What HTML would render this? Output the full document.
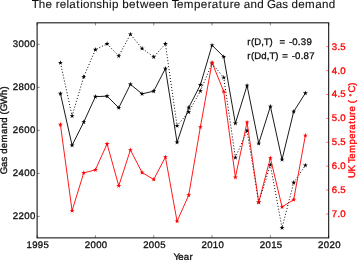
<!DOCTYPE html>
<html><head><meta charset="utf-8"><style>
html,body{margin:0;padding:0;background:#fff;}
body{width:357px;height:260px;overflow:hidden;}
svg{display:block;will-change:transform;}
text{font-family:"Liberation Sans",sans-serif;text-rendering:geometricPrecision;fill:#111;stroke:#111;stroke-width:0.32px;}
.r{fill:#f00;stroke:#f00;}
</style></head><body>
<svg width="357" height="260" viewBox="0 0 357 260">
<rect width="357" height="260" fill="#fff"/>
<g>
<text transform="translate(32.00,8.00) scale(1.0,1)" x="-0.26 6.76 13.48 20.11 23.72 27.70 34.45 37.30 44.32 48.25 51.10 57.80 64.34 70.23 77.07 80.04 86.78 90.29 97.01 104.05 107.98 116.65 123.27 129.99 136.73 139.79 144.88 151.82 162.09 168.81 175.63 179.84 186.86 190.77 197.69 201.67 208.31 211.70 218.41 225.23 231.97 234.95 243.70 250.13 255.93 259.44 266.16 273.11 283.25 289.96 296.79" y="0" style="font-size:11.6px;stroke-width:0.1px">The&#160;relationship&#160;between&#160;Temperature&#160;and&#160;Gas&#160;demand</text>
<polyline points="60.43,62.75 72.09,115.95 83.76,76.75 95.42,49.65 107.08,43.85 118.75,55.95 130.41,34.25 142.08,48.45 153.74,56.95 165.40,43.85 177.07,125.75 188.73,112.05 200.40,90.95 212.06,63.45 223.72,77.55 235.39,157.55 247.05,130.55 258.72,202.25 270.38,164.95 282.04,227.85 293.71,182.65 305.37,165.35" fill="none" stroke="#000" stroke-width="1.0" stroke-dasharray="1,2" stroke-dashoffset="-0.2"/><path d="M60.43,60.15 L61.01,61.95 L62.90,61.95 L61.37,63.06 L61.96,64.85 L60.43,63.74 L58.90,64.85 L59.48,63.06 L57.96,61.95 L59.84,61.95ZM72.09,113.35 L72.68,115.15 L74.56,115.15 L73.04,116.26 L73.62,118.05 L72.09,116.94 L70.56,118.05 L71.15,116.26 L69.62,115.15 L71.51,115.15ZM83.76,74.15 L84.34,75.95 L86.23,75.95 L84.70,77.06 L85.28,78.85 L83.76,77.74 L82.23,78.85 L82.81,77.06 L81.28,75.95 L83.17,75.95ZM95.42,47.05 L96.00,48.85 L97.89,48.85 L96.36,49.96 L96.95,51.75 L95.42,50.64 L93.89,51.75 L94.48,49.96 L92.95,48.85 L94.84,48.85ZM107.08,41.25 L107.67,43.05 L109.56,43.05 L108.03,44.16 L108.61,45.95 L107.08,44.84 L105.56,45.95 L106.14,44.16 L104.61,43.05 L106.50,43.05ZM118.75,53.35 L119.33,55.15 L121.22,55.15 L119.69,56.26 L120.28,58.05 L118.75,56.94 L117.22,58.05 L117.80,56.26 L116.28,55.15 L118.16,55.15ZM130.41,31.65 L131.00,33.45 L132.88,33.45 L131.36,34.56 L131.94,36.35 L130.41,35.24 L128.88,36.35 L129.47,34.56 L127.94,33.45 L129.83,33.45ZM142.08,45.85 L142.66,47.65 L144.55,47.65 L143.02,48.76 L143.60,50.55 L142.08,49.44 L140.55,50.55 L141.13,48.76 L139.60,47.65 L141.49,47.65ZM153.74,54.35 L154.32,56.15 L156.21,56.15 L154.68,57.26 L155.27,59.05 L153.74,57.94 L152.21,59.05 L152.80,57.26 L151.27,56.15 L153.16,56.15ZM165.40,41.25 L165.99,43.05 L167.88,43.05 L166.35,44.16 L166.93,45.95 L165.40,44.84 L163.88,45.95 L164.46,44.16 L162.93,43.05 L164.82,43.05ZM177.07,123.15 L177.65,124.95 L179.54,124.95 L178.01,126.06 L178.60,127.85 L177.07,126.74 L175.54,127.85 L176.12,126.06 L174.60,124.95 L176.48,124.95ZM188.73,109.45 L189.32,111.25 L191.20,111.25 L189.68,112.36 L190.26,114.15 L188.73,113.04 L187.20,114.15 L187.79,112.36 L186.26,111.25 L188.15,111.25ZM200.40,88.35 L200.98,90.15 L202.87,90.15 L201.34,91.26 L201.92,93.05 L200.40,91.94 L198.87,93.05 L199.45,91.26 L197.92,90.15 L199.81,90.15ZM212.06,60.85 L212.64,62.65 L214.53,62.65 L213.00,63.76 L213.59,65.55 L212.06,64.44 L210.53,65.55 L211.12,63.76 L209.59,62.65 L211.48,62.65ZM223.72,74.95 L224.31,76.75 L226.20,76.75 L224.67,77.86 L225.25,79.65 L223.72,78.54 L222.20,79.65 L222.78,77.86 L221.25,76.75 L223.14,76.75ZM235.39,154.95 L235.97,156.75 L237.86,156.75 L236.33,157.86 L236.92,159.65 L235.39,158.54 L233.86,159.65 L234.44,157.86 L232.92,156.75 L234.80,156.75ZM247.05,127.95 L247.64,129.75 L249.52,129.75 L248.00,130.86 L248.58,132.65 L247.05,131.54 L245.52,132.65 L246.11,130.86 L244.58,129.75 L246.47,129.75ZM258.72,199.65 L259.30,201.45 L261.19,201.45 L259.66,202.56 L260.24,204.35 L258.72,203.24 L257.19,204.35 L257.77,202.56 L256.24,201.45 L258.13,201.45ZM270.38,162.35 L270.96,164.15 L272.85,164.15 L271.32,165.26 L271.91,167.05 L270.38,165.94 L268.85,167.05 L269.44,165.26 L267.91,164.15 L269.80,164.15ZM282.04,225.25 L282.63,227.05 L284.52,227.05 L282.99,228.16 L283.57,229.95 L282.04,228.84 L280.52,229.95 L281.10,228.16 L279.57,227.05 L281.46,227.05ZM293.71,180.05 L294.29,181.85 L296.18,181.85 L294.65,182.96 L295.24,184.75 L293.71,183.64 L292.18,184.75 L292.76,182.96 L291.24,181.85 L293.12,181.85ZM305.37,162.75 L305.96,164.55 L307.84,164.55 L306.32,165.66 L306.90,167.45 L305.37,166.34 L303.84,167.45 L304.43,165.66 L302.90,164.55 L304.79,164.55Z" fill="#000"/><polyline points="60.43,93.65 72.09,145.35 83.76,122.05 95.42,96.65 107.08,96.15 118.75,107.75 130.41,84.35 142.08,93.85 153.74,91.15 165.40,68.55 177.07,142.35 188.73,107.55 200.40,84.85 212.06,45.25 223.72,56.75 235.39,123.35 247.05,85.55 258.72,143.45 270.38,106.45 282.04,159.55 293.71,111.55 305.37,93.15" fill="none" stroke="#000" stroke-width="0.9"/><path d="M60.43,91.05 L61.01,92.85 L62.90,92.85 L61.37,93.96 L61.96,95.75 L60.43,94.64 L58.90,95.75 L59.48,93.96 L57.96,92.85 L59.84,92.85ZM72.09,142.75 L72.68,144.55 L74.56,144.55 L73.04,145.66 L73.62,147.45 L72.09,146.34 L70.56,147.45 L71.15,145.66 L69.62,144.55 L71.51,144.55ZM83.76,119.45 L84.34,121.25 L86.23,121.25 L84.70,122.36 L85.28,124.15 L83.76,123.04 L82.23,124.15 L82.81,122.36 L81.28,121.25 L83.17,121.25ZM95.42,94.05 L96.00,95.85 L97.89,95.85 L96.36,96.96 L96.95,98.75 L95.42,97.64 L93.89,98.75 L94.48,96.96 L92.95,95.85 L94.84,95.85ZM107.08,93.55 L107.67,95.35 L109.56,95.35 L108.03,96.46 L108.61,98.25 L107.08,97.14 L105.56,98.25 L106.14,96.46 L104.61,95.35 L106.50,95.35ZM118.75,105.15 L119.33,106.95 L121.22,106.95 L119.69,108.06 L120.28,109.85 L118.75,108.74 L117.22,109.85 L117.80,108.06 L116.28,106.95 L118.16,106.95ZM130.41,81.75 L131.00,83.55 L132.88,83.55 L131.36,84.66 L131.94,86.45 L130.41,85.34 L128.88,86.45 L129.47,84.66 L127.94,83.55 L129.83,83.55ZM142.08,91.25 L142.66,93.05 L144.55,93.05 L143.02,94.16 L143.60,95.95 L142.08,94.84 L140.55,95.95 L141.13,94.16 L139.60,93.05 L141.49,93.05ZM153.74,88.55 L154.32,90.35 L156.21,90.35 L154.68,91.46 L155.27,93.25 L153.74,92.14 L152.21,93.25 L152.80,91.46 L151.27,90.35 L153.16,90.35ZM165.40,65.95 L165.99,67.75 L167.88,67.75 L166.35,68.86 L166.93,70.65 L165.40,69.54 L163.88,70.65 L164.46,68.86 L162.93,67.75 L164.82,67.75ZM177.07,139.75 L177.65,141.55 L179.54,141.55 L178.01,142.66 L178.60,144.45 L177.07,143.34 L175.54,144.45 L176.12,142.66 L174.60,141.55 L176.48,141.55ZM188.73,104.95 L189.32,106.75 L191.20,106.75 L189.68,107.86 L190.26,109.65 L188.73,108.54 L187.20,109.65 L187.79,107.86 L186.26,106.75 L188.15,106.75ZM200.40,82.25 L200.98,84.05 L202.87,84.05 L201.34,85.16 L201.92,86.95 L200.40,85.84 L198.87,86.95 L199.45,85.16 L197.92,84.05 L199.81,84.05ZM212.06,42.65 L212.64,44.45 L214.53,44.45 L213.00,45.56 L213.59,47.35 L212.06,46.24 L210.53,47.35 L211.12,45.56 L209.59,44.45 L211.48,44.45ZM223.72,54.15 L224.31,55.95 L226.20,55.95 L224.67,57.06 L225.25,58.85 L223.72,57.74 L222.20,58.85 L222.78,57.06 L221.25,55.95 L223.14,55.95ZM235.39,120.75 L235.97,122.55 L237.86,122.55 L236.33,123.66 L236.92,125.45 L235.39,124.34 L233.86,125.45 L234.44,123.66 L232.92,122.55 L234.80,122.55ZM247.05,82.95 L247.64,84.75 L249.52,84.75 L248.00,85.86 L248.58,87.65 L247.05,86.54 L245.52,87.65 L246.11,85.86 L244.58,84.75 L246.47,84.75ZM258.72,140.85 L259.30,142.65 L261.19,142.65 L259.66,143.76 L260.24,145.55 L258.72,144.44 L257.19,145.55 L257.77,143.76 L256.24,142.65 L258.13,142.65ZM270.38,103.85 L270.96,105.65 L272.85,105.65 L271.32,106.76 L271.91,108.55 L270.38,107.44 L268.85,108.55 L269.44,106.76 L267.91,105.65 L269.80,105.65ZM282.04,156.95 L282.63,158.75 L284.52,158.75 L282.99,159.86 L283.57,161.65 L282.04,160.54 L280.52,161.65 L281.10,159.86 L279.57,158.75 L281.46,158.75ZM293.71,108.95 L294.29,110.75 L296.18,110.75 L294.65,111.86 L295.24,113.65 L293.71,112.54 L292.18,113.65 L292.76,111.86 L291.24,110.75 L293.12,110.75ZM305.37,90.55 L305.96,92.35 L307.84,92.35 L306.32,93.46 L306.90,95.25 L305.37,94.14 L303.84,95.25 L304.43,93.46 L302.90,92.35 L304.79,92.35Z" fill="#000"/><polyline points="60.43,124.65 72.09,210.75 83.76,172.85 95.42,169.85 107.08,143.85 118.75,185.85 130.41,149.95 142.08,172.55 153.74,179.45 165.40,157.05 177.07,221.25 188.73,195.15 200.40,126.95 212.06,62.65 223.72,91.45 235.39,177.35 247.05,122.25 258.72,202.25 270.38,158.05 282.04,206.95 293.71,199.65 305.37,135.45" fill="none" stroke="#f00" stroke-width="0.9"/><path d="M60.43,122.05 L61.01,123.85 L62.90,123.85 L61.37,124.96 L61.96,126.75 L60.43,125.64 L58.90,126.75 L59.48,124.96 L57.96,123.85 L59.84,123.85ZM72.09,208.15 L72.68,209.95 L74.56,209.95 L73.04,211.06 L73.62,212.85 L72.09,211.74 L70.56,212.85 L71.15,211.06 L69.62,209.95 L71.51,209.95ZM83.76,170.25 L84.34,172.05 L86.23,172.05 L84.70,173.16 L85.28,174.95 L83.76,173.84 L82.23,174.95 L82.81,173.16 L81.28,172.05 L83.17,172.05ZM95.42,167.25 L96.00,169.05 L97.89,169.05 L96.36,170.16 L96.95,171.95 L95.42,170.84 L93.89,171.95 L94.48,170.16 L92.95,169.05 L94.84,169.05ZM107.08,141.25 L107.67,143.05 L109.56,143.05 L108.03,144.16 L108.61,145.95 L107.08,144.84 L105.56,145.95 L106.14,144.16 L104.61,143.05 L106.50,143.05ZM118.75,183.25 L119.33,185.05 L121.22,185.05 L119.69,186.16 L120.28,187.95 L118.75,186.84 L117.22,187.95 L117.80,186.16 L116.28,185.05 L118.16,185.05ZM130.41,147.35 L131.00,149.15 L132.88,149.15 L131.36,150.26 L131.94,152.05 L130.41,150.94 L128.88,152.05 L129.47,150.26 L127.94,149.15 L129.83,149.15ZM142.08,169.95 L142.66,171.75 L144.55,171.75 L143.02,172.86 L143.60,174.65 L142.08,173.54 L140.55,174.65 L141.13,172.86 L139.60,171.75 L141.49,171.75ZM153.74,176.85 L154.32,178.65 L156.21,178.65 L154.68,179.76 L155.27,181.55 L153.74,180.44 L152.21,181.55 L152.80,179.76 L151.27,178.65 L153.16,178.65ZM165.40,154.45 L165.99,156.25 L167.88,156.25 L166.35,157.36 L166.93,159.15 L165.40,158.04 L163.88,159.15 L164.46,157.36 L162.93,156.25 L164.82,156.25ZM177.07,218.65 L177.65,220.45 L179.54,220.45 L178.01,221.56 L178.60,223.35 L177.07,222.24 L175.54,223.35 L176.12,221.56 L174.60,220.45 L176.48,220.45ZM188.73,192.55 L189.32,194.35 L191.20,194.35 L189.68,195.46 L190.26,197.25 L188.73,196.14 L187.20,197.25 L187.79,195.46 L186.26,194.35 L188.15,194.35ZM200.40,124.35 L200.98,126.15 L202.87,126.15 L201.34,127.26 L201.92,129.05 L200.40,127.94 L198.87,129.05 L199.45,127.26 L197.92,126.15 L199.81,126.15ZM212.06,60.05 L212.64,61.85 L214.53,61.85 L213.00,62.96 L213.59,64.75 L212.06,63.64 L210.53,64.75 L211.12,62.96 L209.59,61.85 L211.48,61.85ZM223.72,88.85 L224.31,90.65 L226.20,90.65 L224.67,91.76 L225.25,93.55 L223.72,92.44 L222.20,93.55 L222.78,91.76 L221.25,90.65 L223.14,90.65ZM235.39,174.75 L235.97,176.55 L237.86,176.55 L236.33,177.66 L236.92,179.45 L235.39,178.34 L233.86,179.45 L234.44,177.66 L232.92,176.55 L234.80,176.55ZM247.05,119.65 L247.64,121.45 L249.52,121.45 L248.00,122.56 L248.58,124.35 L247.05,123.24 L245.52,124.35 L246.11,122.56 L244.58,121.45 L246.47,121.45ZM258.72,199.65 L259.30,201.45 L261.19,201.45 L259.66,202.56 L260.24,204.35 L258.72,203.24 L257.19,204.35 L257.77,202.56 L256.24,201.45 L258.13,201.45ZM270.38,155.45 L270.96,157.25 L272.85,157.25 L271.32,158.36 L271.91,160.15 L270.38,159.04 L268.85,160.15 L269.44,158.36 L267.91,157.25 L269.80,157.25ZM282.04,204.35 L282.63,206.15 L284.52,206.15 L282.99,207.26 L283.57,209.05 L282.04,207.94 L280.52,209.05 L281.10,207.26 L279.57,206.15 L281.46,206.15ZM293.71,197.05 L294.29,198.85 L296.18,198.85 L294.65,199.96 L295.24,201.75 L293.71,200.64 L292.18,201.75 L292.76,199.96 L291.24,198.85 L293.12,198.85ZM305.37,132.85 L305.96,134.65 L307.84,134.65 L306.32,135.76 L306.90,137.55 L305.37,136.44 L303.84,137.55 L304.43,135.76 L302.90,134.65 L304.79,134.65Z" fill="#f00"/>
<line x1="37.10" y1="216.38" x2="39.70" y2="216.38" stroke="#555" stroke-width="0.7"/><text transform="translate(12.69,218.82) scale(1.0,1)" x="0.17 5.85 11.53 17.20" y="0" style="font-size:9.6px;">2200</text><line x1="37.10" y1="173.37" x2="39.70" y2="173.37" stroke="#555" stroke-width="0.7"/><text transform="translate(12.69,175.81) scale(1.0,1)" x="0.17 5.85 11.53 17.20" y="0" style="font-size:9.6px;">2400</text><line x1="37.10" y1="130.35" x2="39.70" y2="130.35" stroke="#555" stroke-width="0.7"/><text transform="translate(12.69,132.80) scale(1.0,1)" x="0.17 5.85 11.53 17.20" y="0" style="font-size:9.6px;">2600</text><line x1="37.10" y1="87.34" x2="39.70" y2="87.34" stroke="#555" stroke-width="0.7"/><text transform="translate(12.69,89.80) scale(1.0,1)" x="0.17 5.85 11.53 17.20" y="0" style="font-size:9.6px;">2800</text><line x1="37.10" y1="44.34" x2="39.70" y2="44.34" stroke="#555" stroke-width="0.7"/><text transform="translate(12.69,46.79) scale(1.0,1)" x="0.17 5.85 11.53 17.20" y="0" style="font-size:9.6px;">3000</text><line x1="326.10" y1="46.72" x2="328.70" y2="46.72" stroke="#f44" stroke-width="0.7"/><text transform="translate(331.70,49.67) scale(1.0,1)" x="0.17 5.76 8.68" y="0" class="r" style="font-size:9.6px;">3.5</text><line x1="326.10" y1="70.62" x2="328.70" y2="70.62" stroke="#f44" stroke-width="0.7"/><text transform="translate(331.70,73.57) scale(1.0,1)" x="0.17 5.76 8.68" y="0" class="r" style="font-size:9.6px;">4.0</text><line x1="326.10" y1="94.51" x2="328.70" y2="94.51" stroke="#f44" stroke-width="0.7"/><text transform="translate(331.70,97.46) scale(1.0,1)" x="0.17 5.76 8.68" y="0" class="r" style="font-size:9.6px;">4.5</text><line x1="326.10" y1="118.41" x2="328.70" y2="118.41" stroke="#f44" stroke-width="0.7"/><text transform="translate(331.70,121.36) scale(1.0,1)" x="0.17 5.76 8.68" y="0" class="r" style="font-size:9.6px;">5.0</text><line x1="326.10" y1="142.30" x2="328.70" y2="142.30" stroke="#f44" stroke-width="0.7"/><text transform="translate(331.70,145.25) scale(1.0,1)" x="0.17 5.76 8.68" y="0" class="r" style="font-size:9.6px;">5.5</text><line x1="326.10" y1="166.20" x2="328.70" y2="166.20" stroke="#f44" stroke-width="0.7"/><text transform="translate(331.70,169.15) scale(1.0,1)" x="0.17 5.76 8.68" y="0" class="r" style="font-size:9.6px;">6.0</text><line x1="326.10" y1="190.09" x2="328.70" y2="190.09" stroke="#f44" stroke-width="0.7"/><text transform="translate(331.70,193.04) scale(1.0,1)" x="0.17 5.76 8.68" y="0" class="r" style="font-size:9.6px;">6.5</text><line x1="326.10" y1="213.99" x2="328.70" y2="213.99" stroke="#f44" stroke-width="0.7"/><text transform="translate(331.70,216.94) scale(1.0,1)" x="0.17 5.76 8.68" y="0" class="r" style="font-size:9.6px;">7.0</text><line x1="37.10" y1="237.88" x2="37.10" y2="235.28" stroke="#555" stroke-width="0.7"/><line x1="37.10" y1="22.83" x2="37.10" y2="25.43" stroke="#555" stroke-width="0.7"/><text transform="translate(26.34,247.70) scale(1.0,1)" x="0.17 5.85 11.53 17.20" y="0" style="font-size:9.6px;">1995</text><line x1="95.42" y1="237.88" x2="95.42" y2="235.28" stroke="#555" stroke-width="0.7"/><line x1="95.42" y1="22.83" x2="95.42" y2="25.43" stroke="#555" stroke-width="0.7"/><text transform="translate(84.66,247.70) scale(1.0,1)" x="0.17 5.85 11.53 17.20" y="0" style="font-size:9.6px;">2000</text><line x1="153.74" y1="237.88" x2="153.74" y2="235.28" stroke="#555" stroke-width="0.7"/><line x1="153.74" y1="22.83" x2="153.74" y2="25.43" stroke="#555" stroke-width="0.7"/><text transform="translate(142.98,247.70) scale(1.0,1)" x="0.17 5.85 11.53 17.20" y="0" style="font-size:9.6px;">2005</text><line x1="212.06" y1="237.88" x2="212.06" y2="235.28" stroke="#555" stroke-width="0.7"/><line x1="212.06" y1="22.83" x2="212.06" y2="25.43" stroke="#555" stroke-width="0.7"/><text transform="translate(201.30,247.70) scale(1.0,1)" x="0.17 5.85 11.53 17.20" y="0" style="font-size:9.6px;">2010</text><line x1="270.38" y1="237.88" x2="270.38" y2="235.28" stroke="#555" stroke-width="0.7"/><line x1="270.38" y1="22.83" x2="270.38" y2="25.43" stroke="#555" stroke-width="0.7"/><text transform="translate(259.62,247.70) scale(1.0,1)" x="0.17 5.85 11.53 17.20" y="0" style="font-size:9.6px;">2015</text><line x1="328.70" y1="237.88" x2="328.70" y2="235.28" stroke="#555" stroke-width="0.7"/><line x1="328.70" y1="22.83" x2="328.70" y2="25.43" stroke="#555" stroke-width="0.7"/><text transform="translate(317.94,247.70) scale(1.0,1)" x="0.17 5.85 11.53 17.20" y="0" style="font-size:9.6px;">2020</text>
<rect x="37.10" y="22.83" width="291.60" height="215.05" fill="none" stroke="#000" stroke-width="1.0"/>
<text transform="translate(247.10,44.60) scale(1.0,1)" x="0.24 3.81 7.12 14.11 16.65 22.45 25.88 28.72 32.41 39.03 41.80 45.17 50.77 53.69 59.37" y="0" style="font-size:9.6px;">r(D,T)&#160;&#160;=&#160;-0.39</text>
<text transform="translate(247.10,59.30) scale(1.0,1)" x="0.24 3.81 7.12 14.19 19.77 22.32 28.12 31.54 35.23 41.86 44.62 48.00 53.60 56.52 62.20" y="0" style="font-size:9.6px;">r(Dd,T)&#160;=&#160;-0.87</text>
<g transform="translate(7.1,130.0) rotate(-90)"><text transform="translate(-43.86,0.00) scale(1.0,1)" x="-0.28 6.98 12.31 17.12 20.04 25.61 31.38 39.78 45.35 51.01 56.60 59.49 62.56 69.63 78.73 84.37" y="0" style="font-size:9.6px;">Gas&#160;demand&#160;(GWh)</text></g>
<g transform="translate(354.7,0) rotate(-90)"><text transform="translate(-177.90,0.00) scale(1.0,1)" x="-0.20 6.35 12.47 15.02 19.23 25.00 33.51 39.08 44.74 48.23 54.05 57.30 63.03 66.34 71.84 74.74" y="0" class="r" style="font-size:9.6px;">UK&#160;Temperature&#160;(</text><text class="r" x="-96.4" y="-1.1" style="font-size:6.5px">&#176;</text><text transform="translate(-92.20,0.00) scale(1.0,1)" x="-0.35 6.37" y="0" class="r" style="font-size:9.6px;">C)</text></g>
<text transform="translate(173.95,259.80) scale(1.0,1)" x="-0.48 4.34 9.82 15.47" y="0" style="font-size:9.6px;">Year</text>
</g>
</svg>
</body></html>
